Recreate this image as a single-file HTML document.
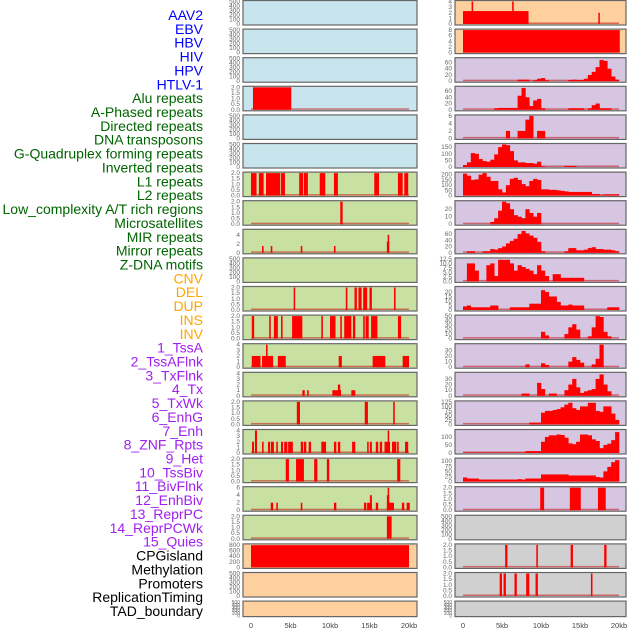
<!DOCTYPE html>
<html><head><meta charset="utf-8"><style>
html,body{margin:0;padding:0;background:#fff;}
svg{display:block;font-family:"Liberation Sans",sans-serif;}
</style></head><body>
<svg id="chart" width="630" height="630" viewBox="0 0 630 630"></svg>
<script>
const labels=["AAV2","EBV","HBV","HIV","HPV","HTLV-1","Alu repeats","A-Phased repeats","Directed repeats","DNA transposons","G-Quadruplex forming repeats","Inverted repeats","L1 repeats","L2 repeats","Low_complexity A/T rich regions","Microsatellites","MIR repeats","Mirror repeats","Z-DNA motifs","CNV","DEL","DUP","INS","INV","1_TssA","2_TssAFlnk","3_TxFlnk","4_Tx","5_TxWk","6_EnhG","7_Enh","8_ZNF_Rpts","9_Het","10_TssBiv","11_BivFlnk","12_EnhBiv","13_ReprPC","14_ReprPCWk","15_Quies","CPGisland","Methylation","Promoters","ReplicationTiming","TAD_boundary"];
const labelColors=["#0000ff","#006400","#ffa500","#a020f0","#000000"];
const labelGroupSizes=[6,13,5,15,5];
const xTicks=[0,5,10,15,20];
const xTickLabels=["0","5kb","10kb","15kb","20kb"];
const leftBg=["#c8e4ec","#c8e4ec","#c8e4ec","#c8e4ec","#c8e4ec","#c8e4ec","#c8e0a2","#c8e0a2","#c8e0a2","#c8e0a2","#c8e0a2","#c8e0a2","#c8e0a2","#c8e0a2","#c8e0a2","#c8e0a2","#c8e0a2","#c8e0a2","#c8e0a2","#fdd09e","#fdd09e","#fdd09e"];
const rightBg=["#fdd09e","#fdd09e","#d6c6e2","#d6c6e2","#d6c6e2","#d6c6e2","#d6c6e2","#d6c6e2","#d6c6e2","#d6c6e2","#d6c6e2","#d6c6e2","#d6c6e2","#d6c6e2","#d6c6e2","#d6c6e2","#d6c6e2","#d6c6e2","#d0d0d0","#d0d0d0","#d0d0d0","#d0d0d0"];
const E5=[0,100,200,300,400,500];
const T2=[0,0.5,1,1.5,2];
const leftYmax=[500,500,500,2,500,500,2,2,5,500,2,2,4,4,2,4,2,6,2,800,500,500];
const leftTicks=[E5,E5,E5,T2,E5,E5,T2,T2,[0,2,4],E5,T2,T2,[0,1,2,3,4],[0,1,2,3,4],T2,[0,1,2,3,4],T2,[0,2,4,6],T2,[0,200,400,600,800],E5,E5];
const leftSegs=[[],[],[],[[0.25,5.1,2]],[],[],
[[0,0.7,2],[1.0,1.6,2],[1.9,3.7,2],[3.8,4.3,2],[6.1,6.6,2],[6.7,7.2,2],[8.7,9.4,2],[10.5,11.0,2],[15.6,16.2,2],[18.6,19.2,2],[19.4,19.9,2]],
[[11.3,11.6,2]],
[[1.4,1.6,1.5],[2.5,2.7,1.5],[6.3,6.5,1.5],[10.5,10.7,1.5],[17.2,17.5,2.5],[17.3,17.4,4]],
[],
[[5.4,5.5,2],[12.0,12.2,2],[13.1,13.4,2],[13.6,14.0,2],[14.2,14.7,2],[15.0,15.3,2],[18.1,18.3,2]],
[[0.1,0.4,2],[2.3,2.5,2],[2.9,3.4,2],[3.8,4.0,2],[5.2,6.5,2],[8.9,9.1,2],[10.0,10.7,2],[11.3,11.5,2],[11.8,12.7,2],[12.9,13.2,2],[14.2,14.4,2],[14.5,14.9,2],[15.2,16.0,2],[18.6,19.0,2]],
[[0.1,1.2,2],[1.4,2.8,2],[1.9,2.1,4],[3.4,4.4,2],[11.1,11.5,2],[15.4,17.0,2],[19.2,20.0,2]],
[[6.5,6.8,1],[7.1,7.3,1],[10.3,11.4,1],[11.0,11.3,2],[12.7,13.2,1]],
[[5.8,6.2,2],[14.4,14.8,2],[18.0,18.2,2]],
[[0.13,0.38,2],[0.5,0.76,4],[1.4,1.6,2],[2.15,2.4,2],[2.5,2.9,2],[3.2,3.4,2],[3.8,4.05,2],[4.2,4.6,2],[4.7,5.3,2],[6.3,6.6,2],[6.7,7.0,2],[7.3,7.6,2],[8.9,9.5,2],[10.5,10.8,2],[11.0,11.3,2],[12.8,13.2,2],[14.7,14.9,2],[15.05,15.3,2],[15.8,16.1,2],[16.3,16.6,2],[16.9,17.6,2],[17.3,17.4,4],[17.85,18.4,2],[18.5,18.7,2],[19.5,19.9,2]],
[[4.4,4.8,2],[5.7,6.7,2],[8.0,8.4,2],[9.6,9.9,2],[18.5,18.9,2]],
[[2.5,2.8,2],[3.2,3.4,2],[6.3,6.5,2],[10.5,10.8,2],[14.3,14.6,2],[14.7,15.3,2],[15.05,15.3,4],[15.8,16.1,2],[17.2,18.1,2],[17.2,17.5,4],[17.3,17.4,6],[19.1,19.4,2],[19.7,20.1,2]],
[[17.2,17.8,2]],
[[0,20,790]],[],[]];
const leftHasData=[0,0,0,1,0,0,1,1,1,0,1,1,1,1,1,1,1,1,1,0,0,0];

const rightYmax=[4,8,72,72,6,170,215,30,72,12.5,25,50,40,40,125,140,110,2,500,2,2,500];
const rightTicks=[[0,1,2,3,4],[0,2,4,6,8],[0,20,40,60],[0,20,40,60],[0,2,4,6],[0,50,100,150],[0,50,100,150,200],[0,10,20],[0,20,40,60],[0,2.5,5,7.5,10,12.5],[0,5,10,15,20],[0,10,20,30,40,50],[0,10,20,30],[0,10,20,30],[0,25,50,75,100,125],[0,50,100],[0,25,50,75,100],T2,E5,T2,T2,E5];
const rightSegs=[[[0,8.4,2.3],[1.1,1.3,4],[6.3,6.5,4],[17.35,17.5,2]],[[0,20.1,8]],[],[],[],[],[],[],[],[],[],[],[],[],[],[],[],
[[9.9,10.4,2],[13.7,15.1,2],[17.3,18.3,2]],[],
[[5.4,5.7,2],[9.4,9.6,2],[13.8,14.1,2],[18.1,18.4,2]],
[[4.7,5.0,2],[5.2,5.5,2],[6.6,6.9,2],[8.1,8.5,2],[9.3,9.6,2],[16.4,16.6,2]],[]];
const rightHasData=[1,1,1,1,1,1,1,1,1,1,1,1,1,1,1,1,1,1,0,1,1,0];
const hiv=[0,0,0,0,0,0,0,0,0,0,0,0,0,0,5,5,5,0,3,8,10,3,0,0,0,0,0,4,5,4,4,8,20,30,45,68,65,40,15,5];
const hpv=[0,0,0,0,0,0,0,0,5,6,6,6,6,6,45,70,40,12,30,35,5,0,0,0,0,0,0,5,5,5,5,0,5,15,20,5,5,5,0,0];
const htlv=[0,0,0,0,0,0,0,0,0,0,0,2,0,0,2,2,5,6,0,2,2,0,0,0,0,0,0,0,0,0,0,0,0,0,0,0,0,0,0,0];
const gquad=[15,35,105,100,60,45,40,55,95,150,170,165,120,50,35,35,30,30,25,40,5,0,0,0,0,0,8,8,8,0,0,0,0,0,0,0,0,0,0,0];
const l1=[210,190,150,155,200,215,180,140,140,60,30,100,160,170,150,110,90,140,160,150,60,60,55,55,50,45,40,35,35,35,35,35,35,15,15,5,12,12,12,12];
const lowc=[0,0,0,0,0,0,0,3,8,18,30,28,20,12,10,8,20,15,10,15,0,0,0,0,0,0,0,0,0,0,0,0,0,0,0,0,0,0,0,0];
const mir=[0,5,5,0,0,5,5,12,10,15,20,30,38,45,60,70,62,55,48,35,5,0,0,0,0,0,5,15,15,8,8,10,15,18,12,12,10,10,8,5];
const zdna=[0,10,10,6,0,0,9,10,3,12,12,12,10,6,9,8,7,6,4,9,6,3,0,4,4,2,2,2,2,2,2,0,0,0,0,0,0,0,0,0];
const del=[4,5,3,3,3,3,3,5,5,0,0,0,3,3,3,3,3,7,7,7,22,20,15,15,9,5,5,6,5,5,5,0,0,0,0,0,0,3,3,3];
const ins=[0,0,0,0,0,0,0,0,0,0,0,0,0,0,0,0,0,0,0,0,15,7,0,0,0,0,10,25,32,20,0,0,5,25,50,48,15,5,0,0];
const tssa=[0,0,0,0,0,0,0,0,0,0,0,0,0,0,0,0,5,0,0,0,7,4,0,0,0,0,0,10,18,13,8,0,0,5,15,40,0,0,0,0];
const tssaf=[0,0,0,0,0,0,0,0,0,0,0,0,0,0,0,4,4,0,0,23,12,0,4,4,0,0,10,20,30,15,5,8,10,12,30,38,20,8,0,0];
const txflnk=[0,0,0,0,0,0,0,0,0,0,0,0,0,0,0,0,0,10,10,10,65,75,75,80,85,95,110,120,90,80,100,100,120,120,75,70,100,100,60,25];
const tx=[3,3,3,3,3,3,3,3,3,3,3,3,3,3,3,3,12,12,12,12,70,100,110,110,115,112,95,60,55,70,115,115,110,85,75,30,50,58,80,130];
const txwk=[20,15,15,15,10,10,10,10,10,10,10,10,10,10,12,10,15,15,15,15,35,35,35,35,35,35,35,30,30,30,30,30,30,30,22,20,50,72,95,105];
const rightBins=[null,null,hiv,hpv,htlv,gquad,l1,lowc,mir,zdna,del,ins,tssa,tssaf,txflnk,tx,txwk,null,null,null,null,null];

const NS="http://www.w3.org/2000/svg";
const svg=document.getElementById('chart');
function mk(tag,attrs,parent){const e=document.createElementNS(NS,tag);for(const k in attrs)e.setAttribute(k,attrs[k]);(parent||svg).appendChild(e);return e;}
const L={x0:243,x1:417,z:251,s:7.9,tx:240};
const R={x0:455,x1:626,z:463,s:7.8,tx:452};
function rowTop(i){return 0.5+i*28.6;}
function rowH(i){return i===21?15.5:24.5;}
function yScale(i,ymax,v){const b=rowTop(i)+rowH(i)-1,t=rowTop(i)+1;return b-(v/ymax)*(b-t);}
function fmt(ticks,v){return ticks.some(t=>t%1!==0)?v.toFixed(1):String(v);}

// labels
let li=0;
labelGroupSizes.forEach((n,g)=>{for(let k=0;k<n;k++){const t=mk('text',{x:203,y:20+li*13.86,'text-anchor':'end','font-size':14,fill:labelColors[g]});


t.textContent=labels[li];li++;}});

function drawPanel(P,i,bg,ymax,ticks,segs,bins,hasData,side){
  const top=rowTop(i),h=rowH(i);
  const g=mk('g',{});
  
  
  mk('rect',{x:P.x0,y:top,width:P.x1-P.x0,height:h,fill:bg,stroke:'#666',"stroke-width":1.2},g);
  ticks.forEach(tv=>{const t=mk('text',{x:P.tx,y:yScale(i,ymax,tv)+2,'text-anchor':'end','font-size':h<20?5:6.5,fill:'#666'},g);
    
    
    t.textContent=fmt(ticks,tv);});
  const base=yScale(i,ymax,0);
  if(hasData){const bl=mk('rect',{x:P.z,y:base-1.5,width:20*P.s,height:1.5,fill:'#c00000','fill-opacity':0.5},g);
    
    }
  if(bins){bins.forEach((v,k)=>{if(!v)return;const y=yScale(i,ymax,v);
    const r=mk('rect',{x:P.z+k*0.5*P.s,y:y,width:0.5*P.s+0.3,height:base-y,fill:'#ff0000'},g);
    
    });}
  segs.forEach(s=>{const y=yScale(i,ymax,s[2]);
    const r=mk('rect',{x:P.z+s[0]*P.s,y:y,width:Math.max(1.5,(s[1]-s[0])*P.s),height:base-y,fill:'#ff0000'},g);
    
    });
}
for(let i=0;i<22;i++){
  drawPanel(L,i,leftBg[i],leftYmax[i],leftTicks[i],leftSegs[i],null,leftHasData[i],'left');
  drawPanel(R,i,rightBg[i],rightYmax[i],rightTicks[i],rightSegs[i],rightBins[i],rightHasData[i],'right');
}
[L,R].forEach((P,pi)=>{xTicks.forEach((v,k)=>{const t=mk('text',{x:P.z+v*P.s,y:628,'text-anchor':'middle','font-size':7.5,fill:'#444'});
  
  
  t.textContent=xTickLabels[k];});});
</script>
</body></html>
